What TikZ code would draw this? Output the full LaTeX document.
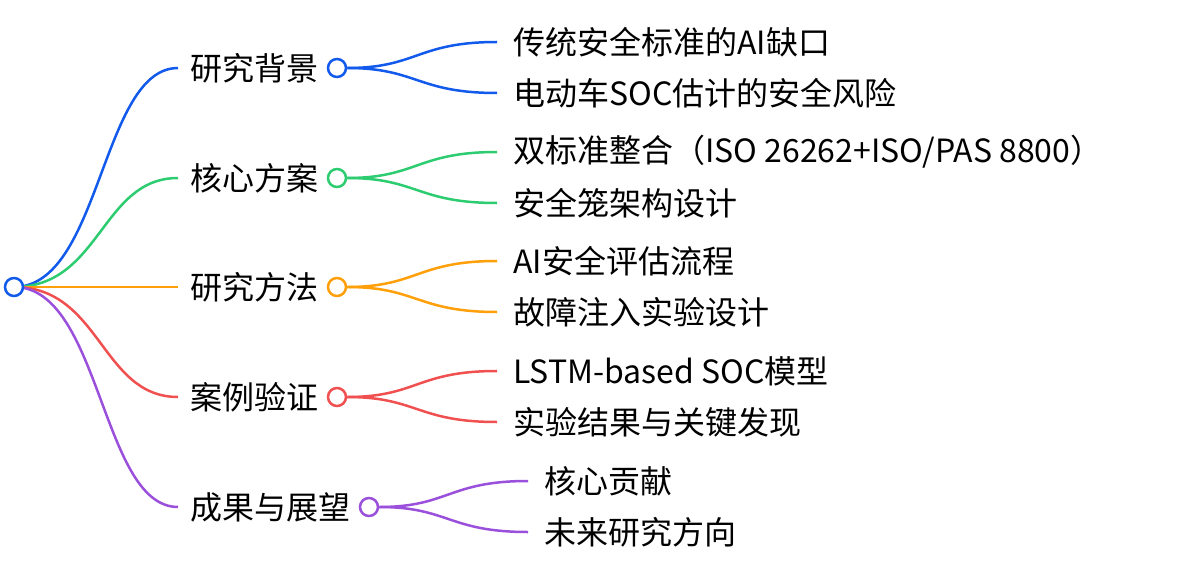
\documentclass[tikz,border=0pt]{standalone}
\usepackage{fontspec}
\setmainfont{Noto Sans CJK SC}
\definecolor{cA}{RGB}{18,90,235}
\definecolor{cB}{RGB}{46,204,113}
\definecolor{cC}{RGB}{255,160,10}
\definecolor{cD}{RGB}{240,80,80}
\definecolor{cE}{RGB}{155,80,220}
\tikzset{
  dot/.style={circle,draw=#1,line width=2.5pt,fill=white,minimum size=18pt,inner sep=0pt},
  lbl/.style={anchor=west,font=\fontsize{32}{32}\selectfont,inner sep=0pt},
  lnk/.style={draw=#1,line width=2.5pt}
}
\begin{document}
\begin{tikzpicture}[x=1pt,y=-1pt]
\useasboundingbox (0,0) rectangle (1185,564);
\coordinate (root) at (14,287);
\def\branch#1#2#3#4#5#6#7#8#9{%
  \coordinate (e#1) at (178,#2);
  \draw[lnk=#3] (root) .. controls (101,287) and (101,#2) .. (e#1);
  \node[lbl] (t#1) at (190,#2) {#4};
  \node[dot=#3] (c#1) at (#5,#2) {};
  \coordinate (a#1) at (#6,#2-26);
  \coordinate (b#1) at (#6,#2+25);
  \draw[lnk=#3] (c#1.east) .. controls ({(#5+#6)/2},#2) and ({(#5+#6)/2},#2-26) .. (a#1);
  \draw[lnk=#3] (c#1.east) .. controls ({(#5+#6)/2},#2) and ({(#5+#6)/2},#2+25) .. (b#1);
  \node[lbl] (ta#1) at (#6+16,#2-26) {#7};
  \node[lbl] (tb#1) at (#6+16,#2+25) {#8};
}
\branch{1}{68}{cA}{研究背景}{337}{497}{传统安全标准的AI缺口}{电动车SOC估计的安全风险}{}
\branch{2}{178}{cB}{核心方案}{337}{497}{双标准整合（ISO 26262+ISO/PAS 8800）}{安全笼架构设计}{}
\branch{3}{287}{cC}{研究方法}{337}{497}{AI安全评估流程}{故障注入实验设计}{}
\branch{4}{397}{cD}{案例验证}{337}{497}{LSTM-based SOC模型}{实验结果与关键发现}{}
\branch{5}{507}{cE}{成果与展望}{369}{528}{核心贡献}{未来研究方向}{}
\node[dot=cA] (r) at (root) {};
\end{tikzpicture}
\end{document}
